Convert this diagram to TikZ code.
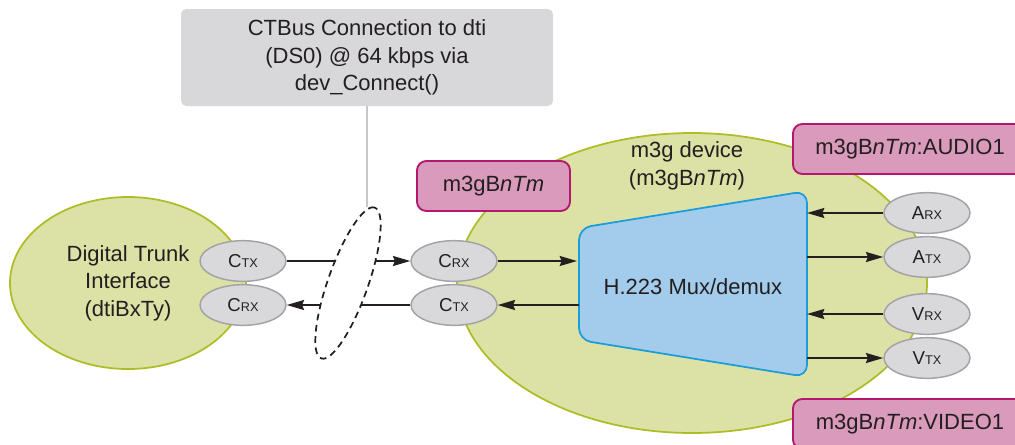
\documentclass[tikz,border=0pt]{standalone}
\usepackage{fontspec}
\setmainfont{Liberation Sans}
\usepackage{tikz}
\usetikzlibrary{shapes.geometric,arrows.meta}

\definecolor{ink}{HTML}{231F20}
\definecolor{olive}{HTML}{AEBD26}
\definecolor{oliveFill}{HTML}{DCE1A5}
\definecolor{chipGray}{HTML}{D9D9DB}
\definecolor{chipLine}{HTML}{A3A3A5}
\definecolor{boxGray}{HTML}{D8D8DA}
\definecolor{leadGray}{HTML}{C8C8CA}
\definecolor{rose}{HTML}{D99ABC}
\definecolor{roseLine}{HTML}{B3176F}
\definecolor{muxFill}{HTML}{A3CCEC}
\definecolor{muxLine}{HTML}{1B9DD9}

\newcommand{\portlbl}[2]{#1{\fontsize{9.5}{9.5}\selectfont #2}}
\newcommand{\unit}{m3gB\textit{nTm}}

\begin{document}
\begin{tikzpicture}[x=0.75pt, y=-0.75pt, line join=round, text=ink,
	font=\fontsize{16.5}{20.6}\selectfont,
	sig/.style={ink, line width=1.3pt, -{Stealth[length=13pt,width=7.5pt,inset=1.5pt]}},
	port/.style={ellipse, draw=chipLine, fill=chipGray, line width=1.1pt, minimum width=64.5pt, minimum height=30.5pt, inner sep=0pt, font=\fontsize{14}{14}\selectfont},
	blob/.style={ellipse, draw=olive, fill=oliveFill, line width=1.3pt, inner sep=0pt, align=center},
	tag/.style={draw=roseLine, fill=rose, line width=1.4pt, rounded corners=7pt, minimum height=37.5pt}]
	% Khung ảnh
	\useasboundingbox (0,0) rectangle (1015,444);
	\fill[white] (0,0) rectangle (1015,444);
	\clip (0,0) rectangle (1015,444);
	% Hai vùng xanh
	\node[blob, minimum width=177pt, minimum height=129pt] (dti) at (128,283) {Digital Trunk\\Interface\\(dtiBxTy)};
	\node[blob, minimum width=352.5pt, minimum height=225pt] (dev) at (692,283) {};
	\node[align=center] (devlbl) at (687,166) {m3g device\\(\unit)};
	% Khối mux
	\coordinate (muxNW) at (579,228);
	\coordinate (muxNE) at (807,191);
	\coordinate (muxSE) at (807,377);
	\coordinate (muxSW) at (579,340);
	\draw[muxLine, fill=muxFill, line width=1.3pt, rounded corners=9pt] (muxNW) -- (muxNE) -- (muxSE) -- (muxSW) -- cycle;
	\node (mux) at (693,287) {H.223 Mux/demux};
	% Hộp chú thích CTBus
	\node[fill=boxGray, rounded corners=4pt, minimum width=279pt, minimum height=72.75pt, align=center] (ctbus) at (367,57.5) {CTBus Connection to dti\\(DS0) @ 64 kbps via\\dev\_Connect()};
	% Các cổng
	\node[port] (ctxA) at (243,261) {\portlbl{C}{TX}};
	\node[port] (crxA) at (243,305) {\portlbl{C}{RX}};
	\node[port] (crxB) at (454,261) {\portlbl{C}{RX}};
	\node[port] (ctxB) at (454,305) {\portlbl{C}{TX}};
	\node[port] (arx) at (927,213) {\portlbl{A}{RX}};
	\node[port] (atx) at (927,257) {\portlbl{A}{TX}};
	\node[port] (vrx) at (927,314) {\portlbl{V}{RX}};
	\node[port] (vtx) at (927,358) {\portlbl{V}{TX}};
	% Mũi tên
	\draw[sig] (ctxA.east) -- (crxB.west);
	\draw[sig] (ctxB.west) -- (crxA.east);
	\draw[sig, shorten >=1.5pt] (crxB.east) -- (crxB.east -| muxNW);
	\draw[sig] (ctxB.east -| muxNW) -- (ctxB.east);
	\foreach \p in {arx, vrx} {
		\draw[sig] (\p.west) -- (\p.west -| muxNE);
	}
	\foreach \p in {atx, vtx} {
		\draw[sig] (\p.west -| muxNE) -- (\p.west);
	}
	% Bó kênh DS0
	\node[ellipse, draw=ink, fill=white, line width=1.3pt, dash pattern=on 5pt off 3.5pt, rotate=70.5, minimum width=120pt, minimum height=30pt, inner sep=0pt] (ds0) at (348,283) {};
	\draw[leadGray, line width=1pt] (ctbus.south) -- (ctbus.south |- ds0.east);
	% Nhãn hồng
	\node[tag, minimum width=114.75pt] (unitTag) at (493.5,186) {\unit};
	\node[tag, minimum width=175.5pt] (audioTag) at (910,149) {\unit:AUDIO1};
	\node[tag, minimum width=175.5pt] (videoTag) at (910,424) {\unit:VIDEO1};
\end{tikzpicture}
\end{document}
